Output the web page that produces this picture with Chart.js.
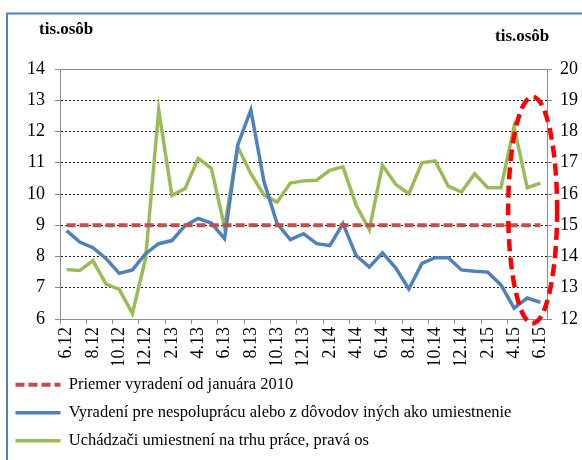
<!DOCTYPE html>
<html><head><meta charset="utf-8">
<script src="https://cdn.jsdelivr.net/npm/chart.js@4.4.1/dist/chart.umd.min.js"></script>
<style>html,body{margin:0;padding:0;background:#fff;}canvas{display:block}</style>
</head><body>
<canvas id="c" width="582" height="460"></canvas>
<script>
// ---- data ----
const categories = ['6.12','7.12','8.12','9.12','10.12','11.12','12.12',
  '1.13','2.13','3.13','4.13','5.13','6.13','7.13','8.13','9.13','10.13','11.13','12.13',
  '1.14','2.14','3.14','4.14','5.14','6.14','7.14','8.14','9.14','10.14','11.14','12.14',
  '1.15','2.15','3.15','4.15','5.15','6.15'];
const averageRemoved = [9,9,9,9,9,9,9,9,9,9,9,9,9,9,9,9,9,9,9,9,9,9,9,9,9,9,9,9,9,9,9,9,9,9,9,9,9];
const removedOther = [8.83,8.46,8.28,7.93,7.46,7.57,8.09,8.41,8.51,8.99,9.22,9.07,8.57,11.56,12.69,10.39,9.05,8.54,8.73,8.41,8.35,9.05,8.03,7.66,8.12,7.64,6.96,7.78,7.96,7.96,7.57,7.53,7.50,7.09,6.35,6.67,6.53];
const placed = [13.58,13.55,13.87,13.12,12.95,12.18,13.93,18.69,15.96,16.17,17.14,16.82,14.94,17.51,16.65,15.96,15.74,16.35,16.42,16.44,16.76,16.87,15.64,14.86,16.92,16.31,16.01,17.0,17.06,16.25,16.06,16.65,16.2,16.2,18.15,16.2,16.35];
const seriesNames = ['Priemer vyradení od januára 2010',
  'Vyradení pre nespoluprácu alebo z dôvodov iných ako umiestnenie',
  'Uchádzači umiestnení na trhu práce, pravá os'];
const unitLabel = 'tis.osôb';
// highlight ellipse, in data units (category index, left-axis value)
const highlight = {xFrom: 33.55, xTo: 37.27, yFrom: 5.86, yTo: 13.11};

const SERIF = '"Liberation Serif", "Times New Roman", serif';
const AXIS_GRAY = '#8f8f8f';

const decor = {
  id: 'decor',
  beforeDraw(chart) {
    const c = chart.ctx;
    c.save();
    c.fillStyle = '#fff';
    c.fillRect(0, 0, chart.width, chart.height);
    c.strokeStyle = '#4f81bd';
    c.lineWidth = 2;
    c.strokeRect(7, 13.5, 600, 480);
    c.fillStyle = '#000';
    c.font = 'bold 17px ' + SERIF;
    c.textBaseline = 'alphabetic';
    c.textAlign = 'left';
    c.fillText(unitLabel, 39, 34);
    c.fillText(unitLabel, 495, 41);
    c.restore();
  },
  afterDatasetsDraw(chart) {
    const c = chart.ctx, x = chart.scales.x, y = chart.scales.y;
    const x0 = x.getPixelForValue(highlight.xFrom), x1 = x.getPixelForValue(highlight.xTo);
    const y0 = y.getPixelForValue(highlight.yFrom), y1 = y.getPixelForValue(highlight.yTo);
    c.save();
    c.strokeStyle = '#ff0000';
    c.lineWidth = 4.5;
    c.setLineDash([12, 6]);
    c.beginPath();
    c.ellipse((x0 + x1) / 2, (y0 + y1) / 2, Math.abs(x1 - x0) / 2, Math.abs(y1 - y0) / 2, 0, 0, Math.PI * 2);
    c.stroke();
    c.restore();
  }
};

new Chart(document.getElementById('c'), {
  type: 'line',
  data: {
    labels: categories,
    datasets: [
      {label: seriesNames[0], data: averageRemoved, yAxisID: 'y', borderColor: '#c0504d', backgroundColor: '#c0504d',
       borderWidth: 4, borderDash: [9, 4], pointRadius: 0, pointStyle: 'line', tension: 0},
      {label: seriesNames[1], data: removedOther, yAxisID: 'y', borderColor: '#4f81bd', backgroundColor: '#4f81bd',
       borderWidth: 3.5, pointRadius: 0, pointStyle: 'line', tension: 0},
      {label: seriesNames[2], data: placed, yAxisID: 'y1', borderColor: '#9bbb59', backgroundColor: '#9bbb59',
       borderWidth: 3.5, pointRadius: 0, pointStyle: 'line', tension: 0}
    ]
  },
  options: {
    responsive: false,
    animation: false,
    layout: {padding: {top: 69, left: 4, right: 0, bottom: 1}},
    plugins: {
      tooltip: {enabled: false},
      legend: {
        position: 'bottom', align: 'start',
        labels: {usePointStyle: true, pointStyle: 'line', pointStyleWidth: 45, padding: 11.5,
                 color: '#000', font: {family: SERIF, size: 16.5},
                 generateLabels: chart => {
                   const items = Chart.defaults.plugins.legend.labels.generateLabels(chart);
                   items.forEach(it => {
                     const ds = chart.data.datasets[it.datasetIndex];
                     it.lineDash = ds.borderDash || [];
                     it.lineWidth = ds.borderWidth;
                     it.strokeStyle = ds.borderColor;
                     it.lineCap = 'butt';
                   });
                   return items;
                 }}
      }
    },
    scales: {
      x: {
        type: 'category', offset: true,
        grid: {offset: true, drawOnChartArea: false, drawTicks: true, tickLength: 5,
               color: c => c.index % 2 === 0 ? AXIS_GRAY : 'rgba(0,0,0,0)',
               tickColor: c => c.index % 2 === 0 ? AXIS_GRAY : 'rgba(0,0,0,0)'},
        border: {color: AXIS_GRAY, width: 1},
        ticks: {autoSkip: false, maxRotation: 90, minRotation: 90, padding: 3, color: '#000',
                font: {family: SERIF, size: 18},
                callback: (v, i) => i % 2 === 0 ? categories[i] : ''},
        afterFit: s => { s.height = 46; }
      },
      y: {
        position: 'left', min: 6, max: 14,
        ticks: {stepSize: 1, padding: 10, color: '#000', font: {family: SERIF, size: 18}},
        grid: {lineWidth: 1, tickLength: 5,
               color: c => (c.tick && (c.tick.value === 14 || c.tick.value === 6)) ? AXIS_GRAY : '#1a1a1a',
               tickColor: AXIS_GRAY},
        border: {color: AXIS_GRAY, width: 1,
                 dash: c => (c.tick && (c.tick.value === 14 || c.tick.value === 6)) ? [] : [2, 2]},
        afterFit: s => { s.width = 56; }
      },
      y1: {
        position: 'right', min: 12, max: 20,
        ticks: {stepSize: 1, padding: 8, color: '#000', font: {family: SERIF, size: 18}},
        grid: {drawOnChartArea: false, tickLength: 5, color: AXIS_GRAY},
        border: {color: AXIS_GRAY, width: 1},
        afterFit: s => { s.width = 35; }
      }
    }
  },
  plugins: [decor]
});
</script>
</body></html>
